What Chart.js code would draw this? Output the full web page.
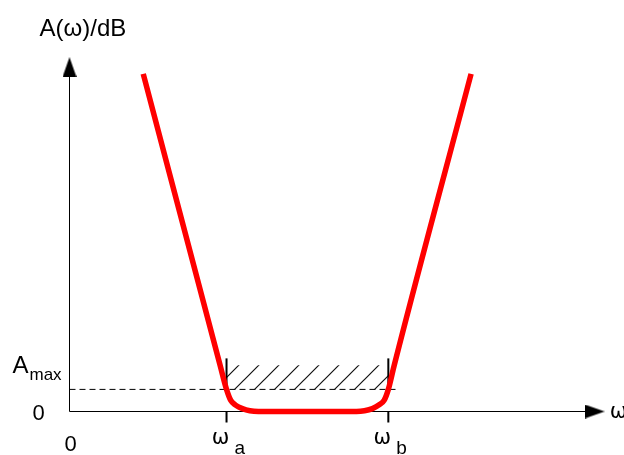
<!DOCTYPE html>
<html>
<head>
<meta charset="utf-8">
<script src="https://cdn.jsdelivr.net/npm/chart.js@4"></script>
<style>
  body { margin: 0; background: #fff; }
</style>
</head>
<body>
<canvas id="filterChart" width="624" height="455"></canvas>
<script>
// band-pass attenuation sketch: omega (arbitrary units) against A in dB
const curveW = [1.39, 2.84, 2.96, 3.04, 3.13, 3.26, 3.40, 3.56,
                5.41, 5.56, 5.71, 5.83, 5.93, 6.01, 6.12, 7.57];
const curveA = [9.47, 1.29, 0.62, 0.31, 0.18, 0.08, 0.02, 0,
                0, 0.02, 0.08, 0.18, 0.31, 0.62, 1.29, 9.47];

const omegaA = 2.96;
const omegaB = 6.01;
const aMax = 0.62;
const bandTop = 1.3;
const markTop = 1.49;
const dashEnd = 6.2;
const xAxisEnd = 9.9;
const yAxisEnd = 9.66;

const tickValues = [0, omegaA, omegaB];
const tickLabels = ['0', 'ω', 'ω'];
const tickSubs = ['', 'a', 'b'];

const FONT = '"Liberation Sans", Arial, sans-serif';
const GREEK = '"DejaVu Sans", sans-serif';

function arrowImage(w, h) {
    const c = document.createElement('canvas');
    c.width = w;
    c.height = h;
    const g = c.getContext('2d');
    g.fillStyle = '#000';
    g.beginPath();
    g.moveTo(w / 2, 0);
    g.lineTo(w, h);
    g.lineTo(0, h);
    g.closePath();
    g.fill();
    return c;
}

function hatchPattern() {
    const s = 20;
    const c = document.createElement('canvas');
    c.width = s;
    c.height = s;
    const g = c.getContext('2d');
    g.strokeStyle = '#111';
    g.lineWidth = 1.2;
    g.beginPath();
    g.moveTo(0, s); g.lineTo(s, 0);
    g.moveTo(-2, 2); g.lineTo(2, -2);
    g.moveTo(s - 2, s + 2); g.lineTo(s + 2, s - 2);
    g.stroke();
    const p = document.getElementById('filterChart').getContext('2d').createPattern(c, 'repeat');
    p.setTransform(new DOMMatrix().translate(4, 0));
    return p;
}

const arrow = arrowImage(14, 20);

function xy(xs, ys) {
    return xs.map((x, i) => ({ x: x, y: ys[i] }));
}

const plain = {
    borderColor: '#000',
    borderWidth: 1,
    pointRadius: 0,
    fill: false,
    clip: false
};

const labelPlugin = {
    id: 'labels',
    afterDraw(chart) {
        const c = chart.ctx;
        const sx = chart.scales.x;
        const sy = chart.scales.y;
        const x0 = sx.getPixelForValue(0);
        const y0 = sy.getPixelForValue(0);
        c.save();
        c.fillStyle = '#000';
        c.textBaseline = 'alphabetic';

        c.font = '24px ' + FONT;
        c.textAlign = 'left';
        c.fillText('A(ω)/dB', x0 - 30, 36);

        // y side labels
        c.fillText('A', x0 - 57, sy.getPixelForValue(aMax) - 16);
        c.font = '17px ' + FONT;
        c.fillText('max', x0 - 40, sy.getPixelForValue(aMax) - 9);
        c.font = '22px ' + FONT;
        c.textAlign = 'center';
        c.fillText('0', x0 - 31, y0 + 8);

        // x ticks
        tickValues.forEach((v, i) => {
            const px = sx.getPixelForValue(v);
            if (tickSubs[i]) {
                c.font = '21px ' + GREEK;
                c.textAlign = 'center';
                c.fillText(tickLabels[i], px - 6, y0 + 32);
                c.font = '19px ' + FONT;
                c.textAlign = 'left';
                c.fillText(tickSubs[i], px + 8, y0 + 42);
            } else {
                c.font = '22px ' + FONT;
                c.textAlign = 'center';
                c.fillText(tickLabels[i], px + 1, y0 + 39);
            }
        });

        c.font = '21px ' + GREEK;
        c.textAlign = 'left';
        c.fillText('ω', sx.getPixelForValue(xAxisEnd) + 15, y0 + 6);
        c.restore();
    }
};

new Chart(document.getElementById('filterChart'), {
    type: 'line',
    data: {
        datasets: [
            {
                data: xy(curveW, curveA),
                borderColor: '#ff0000',
                borderWidth: 5.5,
                borderCapStyle: 'butt',
                cubicInterpolationMode: 'monotone',
                pointRadius: 0,
                fill: false,
                clip: false
            },
            Object.assign({}, plain, {
                data: xy([omegaA, omegaA], [aMax, markTop]),
                borderWidth: 2
            }),
            Object.assign({}, plain, {
                data: xy([omegaB, omegaB], [aMax, markTop]),
                borderWidth: 2
            }),
            Object.assign({}, plain, {
                data: xy([omegaA, omegaA], [0, -0.31]),
                borderWidth: 2
            }),
            Object.assign({}, plain, {
                data: xy([omegaB, omegaB], [0, -0.31]),
                borderWidth: 2
            }),
            Object.assign({}, plain, {
                data: xy([0, dashEnd], [aMax, aMax]),
                borderDash: [6, 4]
            }),
            {
                data: xy([omegaA, omegaB], [bandTop, bandTop]),
                borderWidth: 0,
                pointRadius: 0,
                backgroundColor: hatchPattern(),
                fill: { value: aMax }
            },
            Object.assign({}, plain, {
                data: xy([0, xAxisEnd], [0, 0]),
                pointRadius: [0, 5],
                pointStyle: arrow,
                rotation: 90
            }),
            Object.assign({}, plain, {
                data: xy([0, 0], [0, yAxisEnd]),
                pointRadius: [0, 5],
                pointStyle: arrow
            })
        ]
    },
    options: {
        responsive: false,
        animation: false,
        layout: { padding: { left: 69.5, right: 24, top: 55, bottom: 43.5 } },
        plugins: {
            legend: { display: false },
            tooltip: { enabled: false }
        },
        scales: {
            x: { type: 'linear', min: 0, max: 10, display: false },
            y: { type: 'linear', min: 0, max: 10, display: false }
        }
    },
    plugins: [labelPlugin]
});
</script>
</body>
</html>
